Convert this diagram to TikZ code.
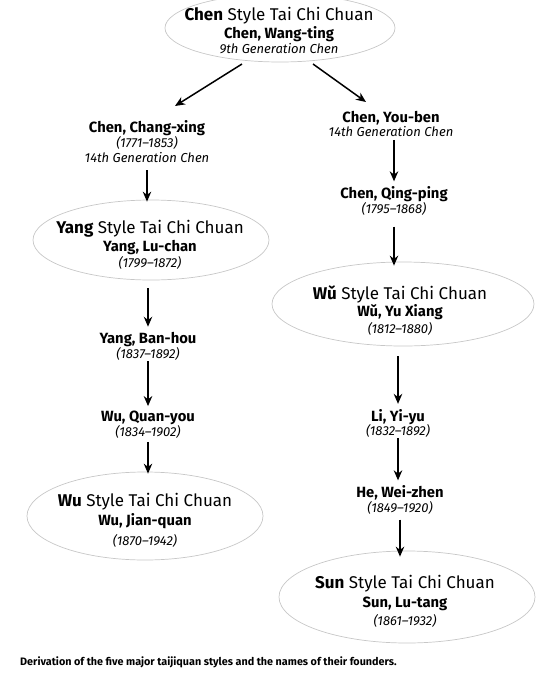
\documentclass[tikz,border=0pt]{standalone}
\usepackage{fontspec}
\setmainfont{Fira Sans}
\usetikzlibrary{shapes.geometric,arrows.meta}
\tikzset{
  arr/.style={-{Stealth[length=10pt,width=8.5pt]}, line width=1.5pt, black},
  person/.style={align=center, inner sep=1pt, font=\fontsize{13}{15}\selectfont},
  styletext/.style={align=center, inner sep=0pt, font=\fontsize{13}{16}\selectfont},
  oval/.style={ellipse, draw=black!22, line width=0.7pt, inner sep=0pt},
}
\newcommand{\sty}[1]{{\fontsize{17}{18}\selectfont\textbf{#1} Style Tai Chi Chuan}}
\newcommand{\nm}[1]{{\fontsize{14.8}{15}\selectfont\textbf{#1}}}
\newcommand{\dt}[1]{{\fontsize{13}{15}\selectfont\textit{#1}}}
\begin{document}
\begin{tikzpicture}[x=1pt,y=-1pt]
\useasboundingbox (0,0) rectangle (540,678);
% ovals
\node[oval, minimum width=230, minimum height=68] (chenE) at (280,28) {};
\node[oval, minimum width=236, minimum height=80] (yangE) at (151,240) {};
\node[oval, minimum width=262, minimum height=84] (wuhE) at (403,304) {};
\node[oval, minimum width=236, minimum height=88] (wuE) at (145,516) {};
\node[oval, minimum width=256, minimum height=92] (sunE) at (407,597) {};
% style texts
\node[styletext] (chen) at (279,31) {\sty{Chen}\\[2pt] \nm{Chen, Wang-ting}\\[-1pt] \dt{9th Generation Chen}};
\node[styletext] (yang) at (150,245) {\sty{Yang}\\[2pt] \nm{Yang, Lu-chan}\\[0pt] \dt{(1799–1872)}};
\node[styletext] (wuh) at (400,311) {\sty{Wǔ}\\[1pt] \nm{Wǔ, Yu Xiang}\\[1pt] \dt{(1812–1880)}};
\node[styletext] (wu) at (145,520) {\sty{Wu}\\[3pt] \nm{Wu, Jian-quan}\\[4pt] \dt{(1870–1942)}};
\node[styletext] (sun) at (405,601) {\sty{Sun}\\[3pt] \nm{Sun, Lu-tang}\\[2pt] \dt{(1861–1932)}};
% persons
\node[person] (changxing) at (147,142) {\nm{Chen, Chang-xing}\\ \dt{(1771–1853)}\\ \dt{14th Generation Chen}};
\node[person] (youben) at (391,124) {\nm{Chen, You-ben}\\[-1pt] \dt{14th Generation Chen}};
\node[person] (qingping) at (394,201) {\nm{Chen, Qing-ping}\\ \dt{(1795–1868)}};
\node[person] (banhou) at (148,346) {\nm{Yang, Ban-hou}\\ \dt{(1837–1892)}};
\node[person] (quanyou) at (148,425) {\nm{Wu, Quan-you}\\ \dt{(1834–1902)}};
\node[person] (liyiyu) at (398,423) {\nm{Li, Yi-yu}\\[-1pt] \dt{(1832–1892)}};
\node[person] (weizhen) at (400,500) {\nm{He, Wei-zhen}\\ \dt{(1849–1920)}};
\node[font=\bfseries\fontsize{10.8}{12}\selectfont, anchor=west, inner sep=0pt] (caption) at (20,662) {Derivation of the five major taijiquan styles and the names of their founders.};
% connectors
\coordinate (cl) at (242,64);
\coordinate (cr) at (313,64);
\coordinate (clend) at (175,106);
\coordinate (crend) at (366,102);
\draw[arr] (cl) -- (clend);
\draw[arr] (cr) -- (crend);
\draw[arr] (changxing.south) ++(0,6) -- ([yshift=-2pt]changxing.south |- yangE.north);
\draw[arr] (banhou.north |- yangE.south) ++(0,8) -- ([yshift=4pt]banhou.north);
\draw[arr] (banhou.south) ++(0,0) -- ([yshift=4pt]quanyou.north);
\draw[arr] (quanyou.south) ++(0,2) -- ([yshift=-2pt]quanyou.south |- wuE.north);
\draw[arr] (qingping.north |- youben.south) ++(0,2) -- ([yshift=4pt]qingping.north);
\draw[arr] (qingping.south) ++(0,10) -- ([yshift=-4pt]qingping.south |- wuhE.north);
\draw[arr] (liyiyu.north |- wuhE.south) ++(0,10) -- ([yshift=4pt]liyiyu.north);
\draw[arr] (liyiyu.south) ++(0,0) -- ([yshift=4pt]liyiyu.south |- weizhen.north);
\draw[arr] (weizhen.south) ++(0,4) -- ([yshift=-6pt]weizhen.south |- sunE.north);
\end{tikzpicture}
\end{document}
